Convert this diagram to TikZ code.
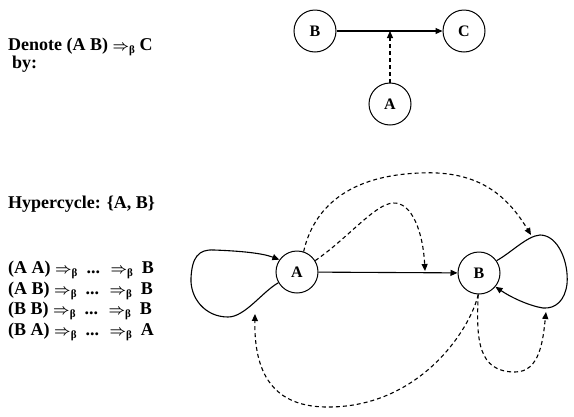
\documentclass[tikz,border=0pt]{standalone}
\usepackage{fontspec}
\setmainfont{Liberation Serif}
\usetikzlibrary{arrows.meta}
\newcommand{\rb}{{\fontsize{15}{15}\selectfont$\boldsymbol{\Rightarrow}$}\raisebox{-3pt}{\fontsize{11}{11}\selectfont β}}
\usepackage{amsmath}
\begin{document}
\begin{tikzpicture}[x=1pt,y=-1pt,
  state/.style={circle,draw,line width=1pt,minimum size=42pt,inner sep=0pt,font=\fontsize{16}{18}\selectfont\bfseries},
  lbl/.style={anchor=base west,inner sep=0pt,font=\fontsize{18}{20}\selectfont\bfseries\boldmath},
  edge/.style={line width=1.1pt,-{Triangle[length=7pt,width=6pt]}},
  cat/.style={edge,dash pattern=on 4pt off 3pt}]
\useasboundingbox (0,0) rectangle (574,416);
% left texts
\node[lbl] (t1) at (8,50) {Denote (A B) \rb{} C};
\node[lbl] (t2) at (12,68) {by:};
\node[lbl] (t3) at (8,208) {Hypercycle: \{A, B\}};
\node[lbl] (r1) at (8,273) {(A A) \rb{} \ ... \ \rb{} \ B};
\node[lbl] (r2) at (8,294) {(A B) \rb{} \ ... \ \rb{} \ B};
\node[lbl] (r3) at (8,314) {(B B) \rb{} \ ... \ \rb{} \ B};
\node[lbl] (r4) at (8,335) {(B A) \rb{} \ ... \ \rb{} \ A};
% top diagram
\node[state] (tB) at (315,31) {B};
\node[state] (tC) at (464,31) {C};
\node[state] (tA) at (390,104) {A};
\coordinate (tM) at (390,31);
\draw[edge] (tB) -- (tC);
\draw[cat] (tA) -- (tM);
% hypercycle
\node[state] (A) at (297,272) {A};
\node[state] (B) at (479,273) {B};
\draw[edge] (A) -- (B);
\draw[edge] (A.210) .. controls (262,292) and (245,317) .. (228,317)
  .. controls (205,317) and (190,298) .. (191,278)
  .. controls (192,258) and (198,249) .. (214,250)
  .. controls (240,251) and (262,253) .. (A.145);
\draw[edge] (B.35) .. controls (512,252) and (527,236) .. (540,235)
  .. controls (558,235) and (569,262) .. (567,284)
  .. controls (565,300) and (556,309) .. (543,308)
  .. controls (530,306) and (512,298) .. (B.-40);
\coordinate (cA) at (255,314);
\coordinate (cBt) at (531,235);
\coordinate (cBb) at (546,312);
\coordinate (cAB) at (425,271);
\draw[cat] (A.72) .. controls (312,215) and (340,176) .. (420,173)
  .. controls (480,170) and (508,197) .. (cBt);
\draw[cat] (A.32) .. controls (348,238) and (375,204) .. (393,203)
  .. controls (412,202) and (423,232) .. (cAB);
\draw[cat] (B.-92) .. controls (470,330) and (420,406) .. (330,407)
  .. controls (272,408) and (254,372) .. (cA);
\draw[cat] (B.-92) .. controls (476,340) and (478,372) .. (515,372)
  .. controls (540,372) and (543,340) .. (cBb);
\end{tikzpicture}
\end{document}
